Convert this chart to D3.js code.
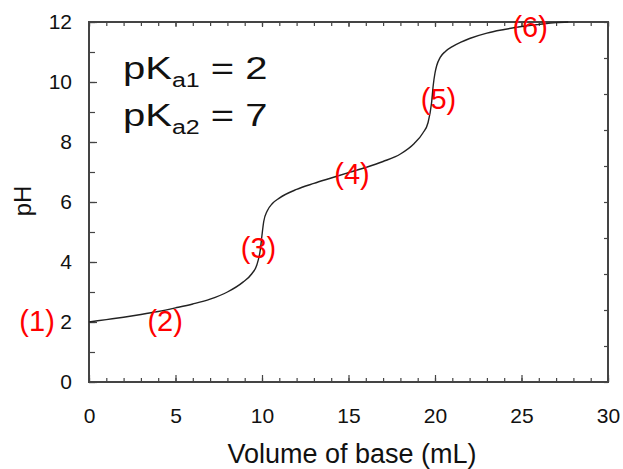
<!DOCTYPE html>
<html>
<head>
<meta charset="utf-8">
<script src="https://cdn.jsdelivr.net/npm/d3@7"></script>
<style>
  body { margin: 0; background: #fff; }
  text { font-family: Arial, "Liberation Sans", sans-serif; }
</style>
</head>
<body>
<svg width="623" height="469"></svg>
<script>
var width = 623,
    height = 469;

// titration curve
var volume = [0, 1, 2, 3, 4, 5, 6, 7, 8, 8.9, 9.4, 9.7, 9.9, 10.0, 10.1, 10.3, 10.6, 11, 12, 13, 14, 15, 16, 17, 18, 18.8, 19.3, 19.6, 19.8, 19.9, 20.0, 20.1, 20.3, 20.6, 21, 21.5, 22, 23, 24, 25, 26, 27, 27.7];
var pH = [2.0, 2.08, 2.16, 2.25, 2.35, 2.47, 2.6, 2.76, 3.0, 3.33, 3.6, 3.9, 4.4, 4.9, 5.35, 5.7, 5.95, 6.13, 6.42, 6.62, 6.8, 6.98, 7.15, 7.35, 7.6, 7.95, 8.3, 8.65, 9.3, 9.9, 10.3, 10.55, 10.82, 11.02, 11.18, 11.33, 11.45, 11.63, 11.75, 11.85, 11.92, 11.98, 12.0];

var xTicks = [0, 5, 10, 15, 20, 25, 30];
var yTicks = [0, 2, 4, 6, 8, 10, 12];

// region labels
var regionNames = ["(1)", "(2)", "(3)", "(4)", "(5)", "(6)"];
var regionX = [-3, 4.4, 9.8, 15.2, 20.2, 25.5];
var regionPH = [1.7, 1.7, 4.15, 6.6, 9.1, 11.5];

var pKaNames = ["a1", "a2"];
var pKaValues = [2, 7];

var svg = d3.select("svg")
    .attr("width", width)
    .attr("height", height);

var x = d3.scaleLinear().domain([0, 30]).range([89, 608]);
var y = d3.scaleLinear().domain([0, 12]).range([382, 22]);
// right frame has its own 10 divisions
var yRight = d3.scaleLinear().domain([0, 10]).range([382, 22]);

var axisColor = "#444";

////////////////////////
// axes
////////////////////////

// minor ticks
svg.append("g")
    .attr("transform", "translate(0," + y(0) + ")")
    .call(d3.axisBottom(x).tickValues(d3.range(0, 31)).tickSize(-4).tickFormat(""));
svg.append("g")
    .attr("transform", "translate(0," + y(12) + ")")
    .call(d3.axisTop(x).tickValues(d3.range(0, 31)).tickSize(-4).tickFormat(""));
svg.append("g")
    .attr("transform", "translate(" + x(0) + ",0)")
    .call(d3.axisLeft(y).tickValues(d3.range(0, 13)).tickSize(-6).tickFormat(""));
svg.append("g")
    .attr("transform", "translate(" + x(30) + ",0)")
    .call(d3.axisRight(yRight).tickValues(d3.range(0, 11)).tickSize(-4).tickFormat(""));

// major ticks with labels
svg.append("g")
    .attr("transform", "translate(0," + y(0) + ")")
    .call(d3.axisBottom(x).tickValues(xTicks).tickSize(-7).tickPadding(26).tickSizeOuter(0));
svg.append("g")
    .attr("transform", "translate(0," + y(12) + ")")
    .call(d3.axisTop(x).tickValues(xTicks).tickSize(-5).tickFormat(""));
svg.append("g")
    .attr("transform", "translate(" + x(0) + ",0)")
    .call(d3.axisLeft(y).tickValues(yTicks).tickSize(-8).tickPadding(17).tickSizeOuter(0));

svg.selectAll(".domain").remove();
svg.selectAll(".tick line").attr("stroke", axisColor).attr("stroke-width", 1.2);
svg.selectAll(".tick text")
    .attr("fill", "#111")
    .style("font-size", "21px");

// frame
svg.append("rect")
    .attr("x", x(0))
    .attr("y", y(12))
    .attr("width", x(30) - x(0))
    .attr("height", y(0) - y(12))
    .attr("fill", "none")
    .attr("stroke", axisColor)
    .attr("stroke-width", 2);

////////////////////////
// titles
////////////////////////

svg.append("text")
    .attr("x", 352)
    .attr("y", 463)
    .attr("text-anchor", "middle")
    .attr("fill", "#111")
    .style("font-size", "27px")
    .text("Volume of base (mL)");

svg.append("text")
    .attr("transform", "translate(31,201) rotate(-90)")
    .attr("text-anchor", "middle")
    .attr("fill", "#111")
    .style("font-size", "24px")
    .text("pH");

////////////////////////
// curve
////////////////////////

var line = d3.line()
    .x(function(d) { return x(d[0]); })
    .y(function(d) { return y(d[1]); })
    .curve(d3.curveMonotoneX);

svg.append("path")
    .datum(volume.map(function(v, i) { return [v, pH[i]]; }))
    .attr("d", line)
    .attr("fill", "none")
    .attr("stroke", "#222")
    .attr("stroke-width", 1.4);

////////////////////////
// pKa text (drawn a little wide, as in the original)
////////////////////////

pKaNames.forEach(function(name, i) {
    var t = svg.append("text")
        .attr("transform", "translate(123," + (79 + i * 47) + ") scale(1.25,1)")
        .attr("fill", "#111")
        .style("font-size", "32px");
    t.append("tspan").text("pK");
    t.append("tspan").attr("dy", 8).style("font-size", "20px").text(name);
    t.append("tspan").attr("dy", -8).text(" = " + pKaValues[i]);
});

////////////////////////
// region labels
////////////////////////

svg.selectAll(".region")
    .data(regionNames)
    .enter()
    .append("text")
    .attr("class", "region")
    .attr("x", function(d, i) { return x(regionX[i]); })
    .attr("y", function(d, i) { return y(regionPH[i]); })
    .attr("text-anchor", "middle")
    .attr("fill", "#ff0000")
    .style("font-size", "29px")
    .text(function(d) { return d; });
</script>
</body>
</html>
